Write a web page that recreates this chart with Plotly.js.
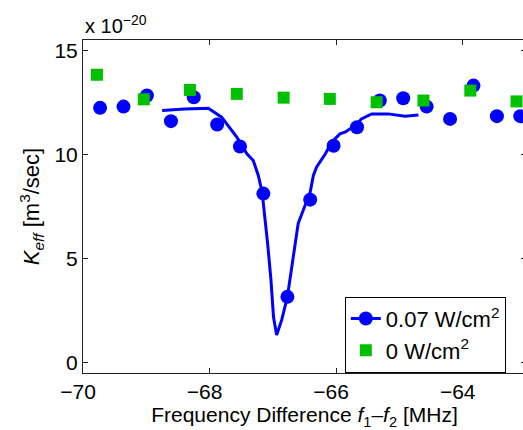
<!DOCTYPE html>
<html>
<head>
<meta charset="utf-8">
<script src="https://cdn.plot.ly/plotly-3.0.1.min.js"></script>
<style>
html,body{margin:0;padding:0;overflow:hidden;background:#fff;}
#chart{width:530px;height:430px;}
</style>
</head>
<body>
<div id="chart"></div>
<script>
// Blue circles: 0.07 W/cm^2 (K_eff in units of 1e-20 m^3/sec)
var blueX = [-69.73,-69.36,-68.99,-68.61,-68.25,-67.88,-67.52,-67.15,-66.77,-66.41,-66.04,-65.67,-65.31,-64.94,-64.57,-64.20,-63.83,-63.46,-63.09];
var blueY = [12.24,12.30,12.83,11.60,12.75,11.44,10.38,8.12,3.16,7.83,10.42,11.31,12.59,12.70,12.30,11.71,13.31,11.84,11.84];
// Blue fitted curve
var fitX = [-68.75,-68.39,-68.02,-67.81,-67.57,-67.41,-67.31,-67.23,-67.17,-67.12,-67.08,-67.03,-66.99,-66.94,-66.86,-66.77,-66.73,-66.65,-66.60,-66.49,-66.41,-66.36,-66.31,-66.17,-66.07,-65.94,-65.86,-65.70,-65.60,-65.44,-65.18,-64.91,-64.70];
var fitY = [12.11,12.19,12.22,11.79,10.83,10.03,9.71,8.99,8.20,6.93,5.64,3.97,2.20,1.33,2.05,3.16,3.97,5.64,6.68,7.56,8.19,8.99,9.39,10.03,10.59,10.99,11.07,11.39,11.71,11.95,11.95,11.84,11.90];
// Green squares: 0 W/cm^2
var greenX = [-69.78,-69.04,-68.31,-67.57,-66.83,-66.10,-65.36,-64.62,-63.88,-63.15];
var greenY = [13.83,12.65,13.10,12.91,12.73,12.67,12.51,12.59,13.07,12.55];

var xTicks = [-70,-68,-66,-64];
var yTicks = [0,5,10,15];
var seriesNames = ['0.07 W/cm<sup>2</sup>','0 W/cm<sup>2</sup>'];

var FONT = 'Liberation Sans, Arial, Helvetica, sans-serif';
var BLUE = '#0000ff', GREEN = '#00c000';

var traces = [
  {x: fitX, y: fitY, mode: 'lines', line: {color: BLUE, width: 3}, showlegend: false, hoverinfo: 'skip'},
  {x: blueX, y: blueY, mode: 'markers', marker: {color: BLUE, size: 14, symbol: 'circle'}, showlegend: false},
  {x: [null], y: [null], mode: 'lines+markers', name: seriesNames[0], line: {color: BLUE, width: 3}, marker: {color: BLUE, size: 14, symbol: 'circle'}},
  {x: greenX, y: greenY, mode: 'markers', name: seriesNames[1], marker: {color: GREEN, size: 12, symbol: 'square'}}
];

var axisCommon = {
  showgrid: false, zeroline: false, showline: true, linecolor: '#222', linewidth: 1,
  mirror: 'ticks', ticks: 'inside', ticklen: 5, tickcolor: '#222', tickwidth: 1,
  tickfont: {family: FONT, size: 21, color: '#000'}
};

var layout = {
  width: 530, height: 430,
  margin: {l: 83, r: 4, t: 40, b: 57},
  paper_bgcolor: '#fff', plot_bgcolor: '#fff',
  font: {family: FONT, color: '#000'},
  xaxis: Object.assign({}, axisCommon, {
    range: [-70, -63], tickvals: xTicks, ticktext: xTicks.map(function(v){return '\u2212' + Math.abs(v);}),
    ticklabelshift: -5,
    title: {text: 'Frequency Difference <i>f</i><sub>1</sub>\u2013<i>f</i><sub>2</sub> [MHz]', font: {family: FONT, size: 21}, standoff: 4}
  }),
  yaxis: Object.assign({}, axisCommon, {
    range: [-0.5, 15.5], tickvals: yTicks, ticktext: yTicks.map(String),
    title: {text: '<i>K</i><sub><i>eff</i></sub> [m<sup>3</sup>/sec]', font: {family: FONT, size: 22}, standoff: 8}
  }),
  legend: {
    x: 0.591, y: 0.229, xanchor: 'left', yanchor: 'top',
    bgcolor: '#fff', bordercolor: '#000', borderwidth: 1,
    font: {family: FONT, size: 22, color: '#000'}
  },
  annotations: [{
    xref: 'paper', yref: 'paper', x: 0, y: 1, xanchor: 'left', yanchor: 'bottom',
    text: 'x 10<sup>\u221220</sup>', showarrow: false, font: {family: FONT, size: 20, color: '#000'}, yshift: 1
  }],
  showlegend: true
};

Plotly.newPlot('chart', traces, layout, {displayModeBar: false, staticPlot: true});
</script>
</body>
</html>
